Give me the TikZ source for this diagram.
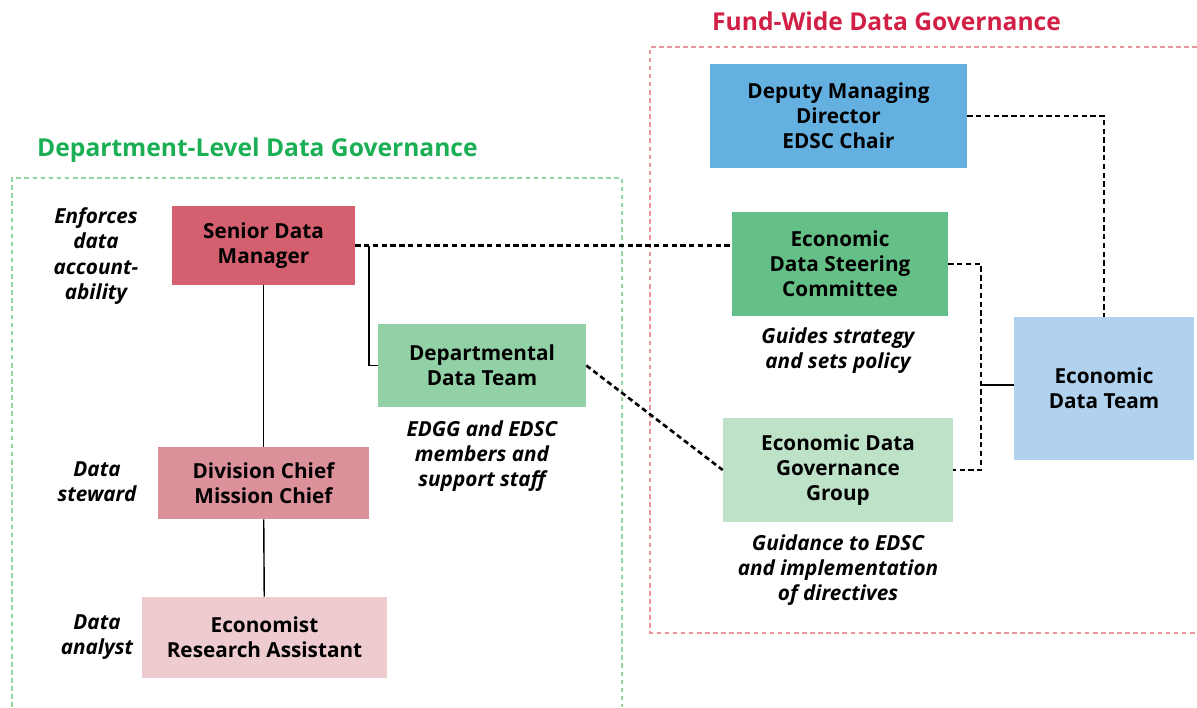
\documentclass[tikz,border=0pt]{standalone}
\usepackage{fontspec}
\setmainfont{Open Sans}
\usepackage{tikz}
\usetikzlibrary{positioning,calc}
\definecolor{sdmred}{HTML}{D45F6F}
\definecolor{divred}{HTML}{DC919A}
\definecolor{ecored}{HTML}{EDCBCF}
\definecolor{ddtgreen}{HTML}{92D0A6}
\definecolor{dmdblue}{HTML}{63B0E1}
\definecolor{edscgreen}{HTML}{65C087}
\definecolor{edggreen}{HTML}{BDE2C8}
\definecolor{edtblue}{HTML}{B0D2EE}
\definecolor{deptgreen}{HTML}{1AAF54}
\definecolor{fundred}{HTML}{D11F45}
\definecolor{framegreen}{HTML}{93D5A3}
\definecolor{framered}{HTML}{E8959E}
\tikzset{
    box/.style={
        align=center,
        inner sep=2pt,
        font=\fontsize{11.8}{14.3}\selectfont\bfseries
    },
    role/.style={
        align=center,
        font=\fontsize{11.8}{14.3}\selectfont\bfseries\itshape
    },
    heading/.style={
        font=\fontsize{14}{17}\selectfont\bfseries
    },
    link/.style={
        draw,
        line width=1.5pt,
        dash pattern=on 3pt off 2pt
    },
    line/.style={
        draw,
        line width=0.8pt
    },
    frame/.style={
        draw,
        line width=1.4pt,
        dash pattern=on 2.6pt off 2pt
    }
}

\begin{document}
\begin{tikzpicture}[x=0.02cm, y=-0.02cm]
  \useasboundingbox (0,0) rectangle (1197,707);

  % Group frames and titles
  \draw[frame, framegreen] (12,707) -- (12,178) -- (622,178) -- (622,707);
  \draw[frame, framered] (1197,47) -- (650,47) -- (650,633) -- (1197,633);
  \node[heading, deptgreen, anchor=west] (depttitle) at (31,150) {Department-Level Data Governance};
  \node[heading, fundred, anchor=west] (fundtitle) at (706,21) {Fund-Wide Data Governance};

  % Department-level roles
  \node[box, fill=sdmred, minimum width=3.66cm, minimum height=1.58cm] (sdm) at (263.5,245.5) {Senior Data\\Manager};
  \node[box, fill=divred, minimum width=4.22cm, minimum height=1.44cm] (chief) at (263.5,483) {Division Chief\\Mission Chief};
  \node[box, fill=ecored, minimum width=4.9cm, minimum height=1.62cm] (economist) at (264.5,637.5) {Economist\\Research Assistant};
  \node[box, fill=ddtgreen, minimum width=4.16cm, minimum height=1.66cm] (ddt) at (482,365.5) {Departmental\\Data Team};

  % Fund-wide bodies
  \node[box, fill=dmdblue, minimum width=5.14cm, minimum height=2.08cm] (dmd) at (838.5,116) {Deputy Managing\\Director\\EDSC Chair};
  \node[box, fill=edscgreen, minimum width=4.32cm, minimum height=2.08cm] (edsc) at (840,264) {Economic\\Data Steering\\Committee};
  \node[box, fill=edggreen, minimum width=4.6cm, minimum height=2.08cm] (edgg) at (838,470) {Economic Data\\Governance\\Group};
  \node[box, fill=edtblue, minimum width=3.6cm, minimum height=2.86cm] (edt) at (1104,388.5) {Economic\\Data Team};

  % Role descriptions
  \node[role] (enforces) at (96,256) {Enforces\\data\\account-\\ability};
  \node[role] (steward) at (97,482) {Data\\steward};
  \node[role] (analyst) at (97,637) {Data\\analyst};
  \node[role] (members) at (482,456) {EDGG and EDSC\\members and\\support staff};
  \node[role] (guides) at (838,351) {Guides strategy\\and sets policy};
  \node[role] (guidance) at (838,570) {Guidance to EDSC\\and implementation\\of directives};

  % Reporting lines
  \coordinate (sdmjoin) at (369,245.5);
  \coordinate (edtjoin) at (981,385);
  \draw[line] (sdm) -- (chief);
  \draw[line] (chief) -- (economist);
  \draw[line] (sdmjoin) |- (ddt.west);
  \draw[line] (edtjoin) -- (edt.west |- edtjoin);

  % Coordination links
  \draw[link] (sdm.east) -- (edsc.west |- sdm.east);
  \draw[link] (ddt.east) -- (edgg.west);
  \draw[link] (dmd.east) -| (edt.north);
  \draw[link] (edsc.east) -| (edtjoin) |- (edgg.east);
\end{tikzpicture}
\end{document}
